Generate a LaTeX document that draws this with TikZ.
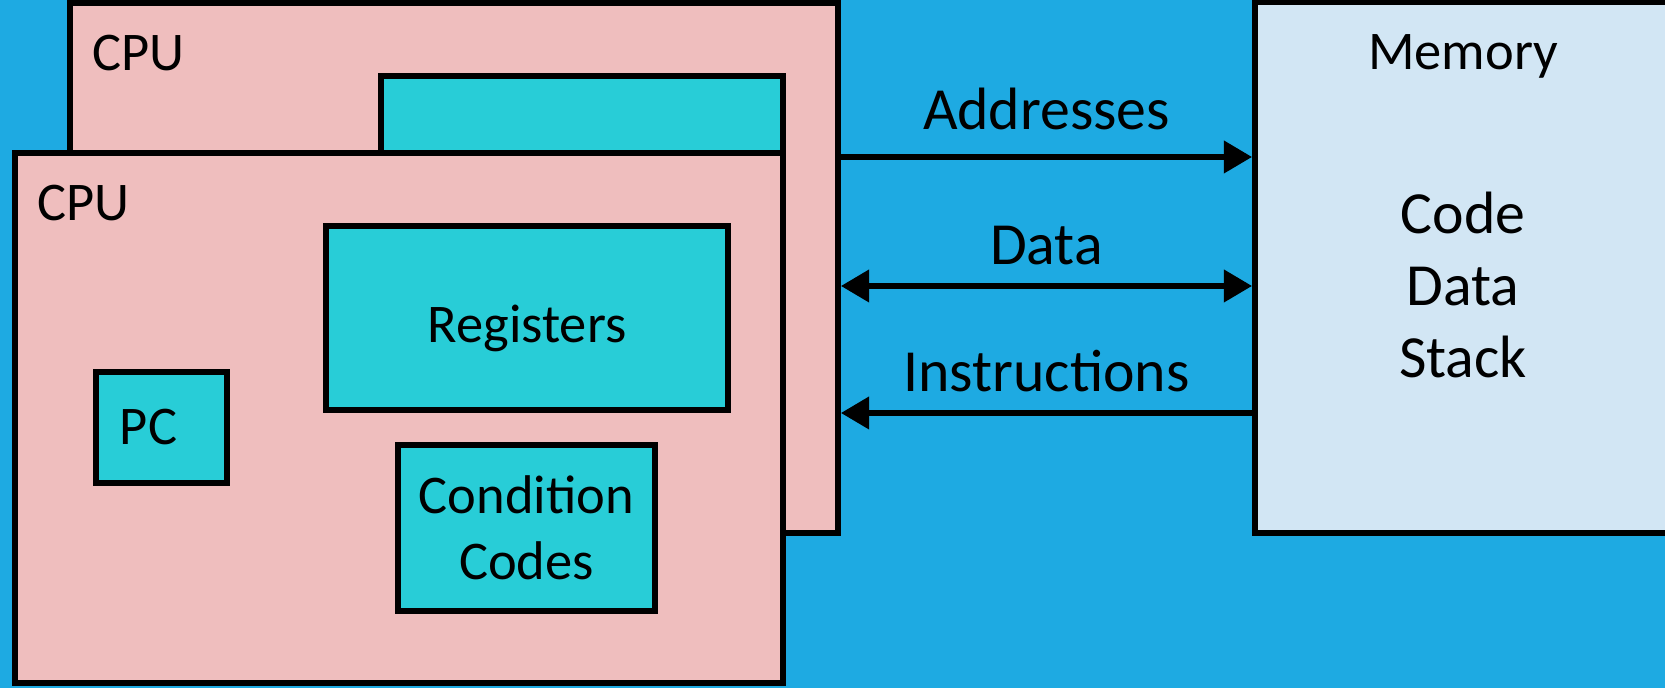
\documentclass[tikz,border=0pt]{standalone}
\usepackage{fontspec}
\setmainfont{Carlito}
\usetikzlibrary{arrows.meta}
\definecolor{slideblue}{RGB}{30,170,226}
\definecolor{cpupink}{RGB}{239,190,190}
\definecolor{regteal}{RGB}{40,205,215}
\definecolor{memblue}{RGB}{210,230,244}
\begin{document}
\begin{tikzpicture}[
    >={Triangle[length=8pt,width=9pt]},
    box/.style={draw=black, line width=1.7pt, anchor=south west, inner sep=0pt},
    cpubox/.style={box, fill=cpupink, minimum width=7.68cm, minimum height=5.30cm},
    regbox/.style={box, fill=regteal, align=center, font=\fontsize{15.5}{18.8}\selectfont},
    lbl/.style={font=\fontsize{15.5}{18.8}\selectfont, anchor=base west},
    bus/.style={line width=1.5pt},
    buslbl/.style={font=\fontsize{17}{20}\selectfont, above=2pt}
  ]
  \useasboundingbox (0,0) rectangle (16.65,6.88);
  \clip (0,0) rectangle (16.65,6.88);
  \fill[slideblue] (0,0) rectangle (16.65,6.88);
  % two cpus, the back one shifted up and right
  \foreach \dx/\dy/\n in {0.55/1.50/b, 0/0/f} {
    \begin{scope}[shift={(\dx,\dy)}]
      \node[cpubox] (cpu\n) at (0.12,0.02) {};
      \node[lbl] at (0.25,4.67) {CPU};
      \node[regbox, minimum width=4.02cm, minimum height=1.84cm] (regs\n) at (3.23,2.75) {\raisebox{-0.1cm}[\height][\depth]{Registers}};
      \node[regbox, minimum width=1.31cm, minimum height=1.11cm] (pc\n) at (0.93,2.02) {PC\hspace*{0.26cm}};
      \node[regbox, minimum width=2.57cm, minimum height=1.66cm] (cc\n) at (3.95,0.74) {Condition\\Codes};
    \end{scope}
  }
  \node[box, fill=memblue, minimum width=4.22cm, minimum height=5.31cm] (mem) at (12.52,1.52) {};
  \node[font=\fontsize{15.5}{18.8}\selectfont, anchor=base] (memtitle) at (14.63,6.18) {Memory};
  \node[font=\fontsize{17}{20.4}\selectfont, align=center] (memparts) at (14.63,4.03) {Code\\Data\\Stack};
  \draw[bus,->] (cpub.east |- 0,5.31) -- node[buslbl, yshift=1.5pt] {Addresses} (mem.west |- 0,5.31);
  \draw[bus,<->] (cpub.east |- 0,4.02) -- node[buslbl] {Data} (mem.west |- 0,4.02);
  \draw[bus,->] (mem.west |- 0,2.75) -- node[buslbl] {Instructions} (cpub.east |- 0,2.75);
\end{tikzpicture}
\end{document}
